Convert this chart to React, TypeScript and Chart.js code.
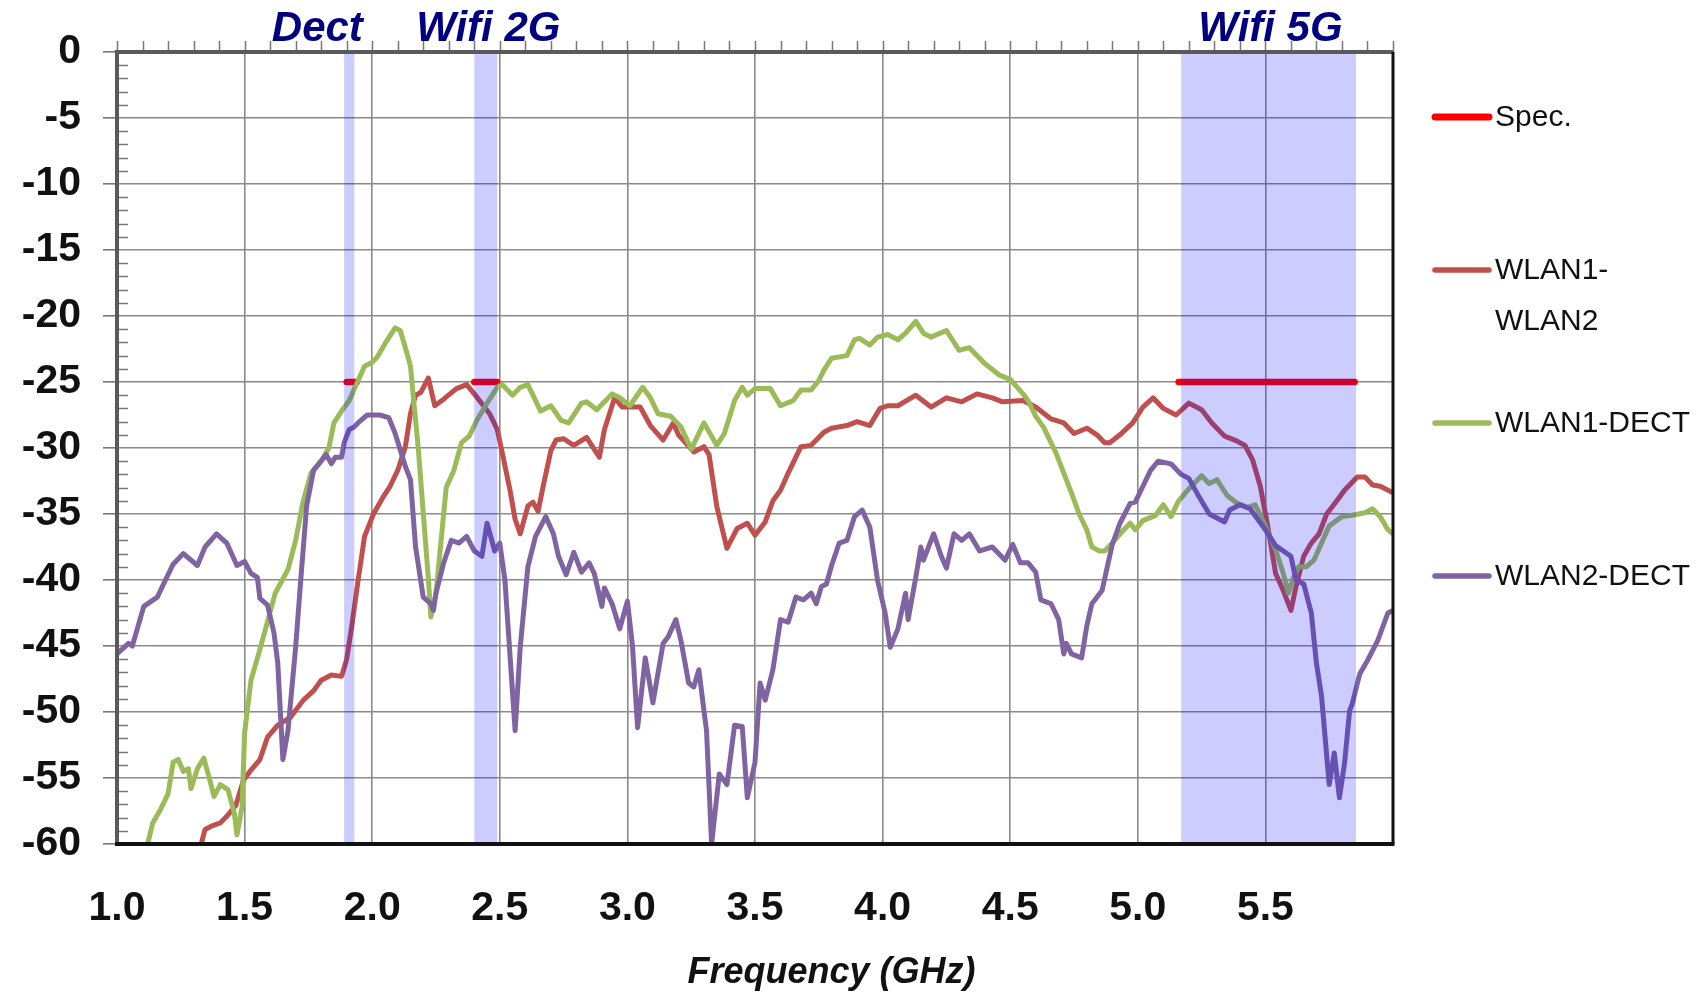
import React, { useEffect, useRef } from 'react';
import { Chart, registerables } from 'chart.js';

Chart.register(...registerables);

// ---------- data ----------
const seriesNames = ['Spec.', 'WLAN1-WLAN2', 'WLAN1-DECT', 'WLAN2-DECT'];
const seriesColors = ['#FF0000', '#C0504D', '#9BBB59', '#8064A2'];

const specStart = [1.9, 2.4, 5.16];
const specEnd = [1.94, 2.49, 5.85];
const specLevel = -25;

const bandStart = [1.89, 2.4, 5.17];
const bandEnd = [1.93, 2.49, 5.855];
const bandLabels = ['Dect', 'Wifi 2G', 'Wifi 5G'];
const bandLabelAt = [1.785, 2.455, 5.52];

const xTitle = 'Frequency (GHz)';
const xTitleAt = 3.8;

const wlan12Freq = [
  1.33, 1.345, 1.375, 1.405, 1.435, 1.465, 1.495, 1.525, 1.56, 1.59, 1.63, 1.68, 1.73, 1.77, 1.8, 1.84, 1.88, 1.9,
  1.92, 1.945, 1.97, 2.005, 2.04, 2.07, 2.1, 2.13, 2.15, 2.17, 2.19, 2.22, 2.245, 2.28, 2.33, 2.37, 2.4, 2.44, 2.46,
  2.49, 2.51, 2.54, 2.56, 2.58, 2.61, 2.63, 2.65, 2.67, 2.7, 2.72, 2.75, 2.79, 2.84, 2.89, 2.91, 2.95, 2.98, 3.01,
  3.05, 3.09, 3.14, 3.18, 3.2, 3.26, 3.3, 3.32, 3.35, 3.39, 3.43, 3.47, 3.5, 3.54, 3.57, 3.6, 3.63, 3.68, 3.72, 3.77,
  3.8, 3.86, 3.9, 3.95, 3.99, 4.02, 4.06, 4.13, 4.19, 4.25, 4.31, 4.37, 4.43, 4.47, 4.55, 4.6, 4.66, 4.71, 4.75, 4.8,
  4.84, 4.87, 4.89, 4.93, 4.98, 5.02, 5.06, 5.1, 5.15, 5.2, 5.25, 5.29, 5.34, 5.38, 5.42, 5.45, 5.48, 5.51, 5.54,
  5.57, 5.6, 5.62, 5.65, 5.68, 5.71, 5.74, 5.78, 5.81, 5.86, 5.89, 5.92, 5.95, 6.0,
];
const wlan12Db = [
  -60, -58.9, -58.6, -58.4, -57.8, -57.1, -55.2, -54.4, -53.6, -51.9, -51.0, -50.4, -49.1, -48.4, -47.6, -47.2, -47.3,
  -46.0, -43.5, -40.0, -36.7, -35.0, -33.8, -32.9, -31.7, -29.9, -27.4, -26.0, -25.8, -24.7, -26.8, -26.3, -25.5,
  -25.2, -25.9, -26.9, -27.4, -28.6, -30.4, -33.2, -35.4, -36.5, -34.4, -34.1, -34.8, -32.9, -30.2, -29.4, -29.3,
  -29.8, -29.2, -30.7, -28.6, -26.2, -26.9, -26.9, -26.9, -28.3, -29.4, -28.1, -29.0, -30.3, -29.9, -30.5, -34.4,
  -37.6, -36.1, -35.7, -36.6, -35.6, -34.0, -33.2, -31.9, -29.9, -29.8, -28.8, -28.5, -28.3, -28.0, -28.3, -27.0,
  -26.8, -26.8, -26.0, -26.9, -26.2, -26.5, -25.9, -26.2, -26.5, -26.4, -26.9, -27.8, -28.1, -28.9, -28.5, -29.0,
  -29.6, -29.6, -29.0, -28.1, -26.9, -26.2, -27.0, -27.5, -26.6, -27.1, -28.1, -29.1, -29.4, -29.8, -30.9, -32.9,
  -36.0, -39.5, -40.8, -42.3, -40.5, -38.2, -37.2, -36.5, -35.0, -34.0, -33.2, -32.2, -32.2, -32.8, -32.9, -33.4,
];

const wlan1DectFreq = [
  1.12, 1.14, 1.17, 1.2, 1.22, 1.24, 1.26, 1.28, 1.29, 1.315, 1.34, 1.36, 1.38, 1.405, 1.435, 1.46, 1.47, 1.49, 1.5,
  1.525, 1.555, 1.585, 1.62, 1.67, 1.7, 1.73, 1.76, 1.8, 1.83, 1.85, 1.88, 1.91, 1.94, 1.97, 2.0, 2.02, 2.05, 2.09,
  2.11, 2.13, 2.15, 2.16, 2.18, 2.2, 2.22, 2.23, 2.25, 2.27, 2.29, 2.32, 2.35, 2.38, 2.41, 2.45, 2.49, 2.51, 2.55,
  2.58, 2.61, 2.66, 2.7, 2.74, 2.77, 2.82, 2.84, 2.88, 2.94, 2.97, 3.01, 3.06, 3.09, 3.12, 3.17, 3.21, 3.25, 3.3,
  3.35, 3.38, 3.42, 3.45, 3.47, 3.5, 3.56, 3.6, 3.65, 3.68, 3.72, 3.75, 3.77, 3.8, 3.86, 3.89, 3.91, 3.95, 3.98, 4.02,
  4.06, 4.09, 4.13, 4.16, 4.19, 4.25, 4.3, 4.34, 4.4, 4.46, 4.5, 4.55, 4.57, 4.6, 4.63, 4.68, 4.71, 4.74, 4.77, 4.8,
  4.82, 4.85, 4.87, 4.9, 4.94, 4.97, 4.99, 5.02, 5.07, 5.1, 5.13, 5.16, 5.2, 5.25, 5.28, 5.31, 5.35, 5.39, 5.43,
  5.46, 5.5, 5.54, 5.57, 5.59, 5.61, 5.63, 5.66, 5.69, 5.72, 5.75, 5.8, 5.84, 5.89, 5.92, 5.95, 5.98, 6.0,
];
const wlan1DectDb = [
  -60, -58.4, -57.4, -56.2, -53.8, -53.6, -54.5, -54.3, -55.8, -54.3, -53.5, -54.9, -56.4, -55.5, -55.9, -57.7, -59.3,
  -57.2, -51.6, -47.6, -45.6, -43.5, -41.0, -39.2, -37.0, -34.0, -31.9, -31.0, -30.0, -28.1, -27.2, -26.4, -25.1,
  -23.8, -23.5, -23.1, -22.1, -20.9, -21.1, -22.4, -23.8, -25.9, -29.9, -34.9, -39.9, -42.8, -41.0, -37.0, -33.0,
  -31.7, -29.6, -29.1, -27.9, -26.6, -25.4, -25.2, -26.0, -25.4, -25.2, -27.2, -26.8, -27.9, -28.1, -26.6, -26.5,
  -27.1, -25.9, -26.2, -26.8, -25.4, -26.2, -27.4, -27.6, -28.4, -30.1, -28.1, -29.8, -28.9, -26.4, -25.4, -26.0,
  -25.5, -25.5, -26.8, -26.4, -25.6, -25.6, -24.9, -24.1, -23.2, -23.0, -21.8, -21.7, -22.2, -21.6, -21.4, -21.8,
  -21.3, -20.4, -21.3, -21.6, -21.1, -22.6, -22.4, -23.6, -24.5, -24.8, -25.9, -26.4, -27.6, -28.4, -30.4, -31.9,
  -33.4, -35.0, -36.2, -37.5, -37.8, -37.8, -37.2, -36.3, -35.7, -36.2, -35.5, -35.1, -34.3, -35.2, -34.0, -33.1,
  -32.1, -32.7, -32.4, -33.6, -34.2, -34.5, -34.3, -35.9, -37.7, -39.5, -41.0, -39.8, -39.0, -39.0, -38.5, -37.2,
  -35.9, -35.2, -35.1, -34.9, -34.6, -35.2, -36.2, -36.5,
];

const wlan2DectFreq = [
  1.0, 1.045, 1.06, 1.105, 1.158, 1.19, 1.22, 1.26, 1.315, 1.345, 1.39, 1.43, 1.47, 1.5, 1.525, 1.55, 1.56, 1.59,
  1.615, 1.63, 1.65, 1.67, 1.7, 1.72, 1.743, 1.77, 1.82, 1.84, 1.855, 1.88, 1.89, 1.91, 1.93, 1.95, 1.98, 2.03, 2.065,
  2.09, 2.13, 2.15, 2.17, 2.2, 2.23, 2.24, 2.25, 2.28, 2.31, 2.34, 2.37, 2.4, 2.43, 2.45, 2.48, 2.5, 2.52, 2.56, 2.58,
  2.61, 2.64, 2.68, 2.71, 2.73, 2.76, 2.79, 2.82, 2.85, 2.87, 2.9, 2.91, 2.94, 2.97, 3.0, 3.02, 3.04, 3.07, 3.1, 3.14,
  3.16, 3.19, 3.21, 3.24, 3.26, 3.28, 3.3, 3.31, 3.33, 3.36, 3.39, 3.42, 3.45, 3.47, 3.5, 3.52, 3.54, 3.57, 3.6, 3.63,
  3.66, 3.69, 3.72, 3.74, 3.76, 3.78, 3.8, 3.83, 3.86, 3.89, 3.92, 3.95, 3.98, 4.01, 4.03, 4.06, 4.09, 4.1, 4.13,
  4.15, 4.16, 4.2, 4.23, 4.25, 4.28, 4.31, 4.34, 4.38, 4.43, 4.48, 4.51, 4.54, 4.57, 4.6, 4.62, 4.66, 4.69, 4.71,
  4.72, 4.74, 4.78, 4.8, 4.82, 4.86, 4.9, 4.93, 4.97, 4.99, 5.02, 5.05, 5.08, 5.13, 5.17, 5.2, 5.24, 5.28, 5.34,
  5.36, 5.4, 5.44, 5.5, 5.54, 5.6, 5.62, 5.65, 5.68, 5.7, 5.72, 5.75, 5.77, 5.79, 5.81, 5.83, 5.84, 5.87, 5.9, 5.94,
  5.98, 6.0,
];
const wlan2DectDb = [
  -45.6, -44.8, -45.0, -42.0, -41.3, -40.0, -38.8, -38.0, -38.9, -37.5, -36.5, -37.2, -38.9, -38.6, -39.5, -39.8,
  -41.4, -41.9, -44.0, -46.3, -53.6, -51.4, -45.1, -40.0, -34.4, -31.7, -30.5, -31.2, -30.7, -30.7, -29.6, -28.6,
  -28.4, -28.0, -27.5, -27.5, -27.7, -28.9, -31.4, -32.4, -37.5, -41.3, -41.8, -42.3, -41.0, -38.7, -37.0, -37.2,
  -36.7, -37.8, -38.2, -35.7, -37.8, -37.2, -40.0, -51.4, -45.1, -39.0, -36.7, -35.2, -36.5, -38.2, -39.6, -37.9,
  -39.4, -38.7, -39.5, -42.0, -40.6, -41.8, -43.7, -41.6, -45.0, -51.2, -45.9, -49.3, -44.8, -44.3, -43.0, -44.6,
  -47.8, -48.1, -46.8, -49.9, -51.4, -60.0, -54.7, -55.5, -51.0, -51.1, -56.5, -53.8, -47.8, -49.1, -46.8, -43.0,
  -43.2, -41.3, -41.5, -41.0, -41.8, -40.5, -40.3, -38.9, -37.2, -37.0, -35.2, -34.7, -36.0, -40.0, -42.5, -45.1,
  -43.7, -41.0, -43.0, -39.8, -37.5, -38.5, -36.5, -38.2, -39.1, -36.5, -37.0, -36.5, -37.8, -37.5, -38.5, -37.3,
  -38.7, -38.7, -39.4, -41.5, -41.8, -43.0, -45.6, -44.8, -45.6, -45.9, -43.5, -41.8, -40.8, -37.3, -35.7, -34.2,
  -34.1, -32.9, -31.7, -31.0, -31.2, -32.0, -32.3, -33.7, -35.0, -35.6, -34.7, -34.3, -34.6, -36.2, -37.4, -38.2,
  -40.0, -40.3, -42.5, -46.3, -48.8, -55.5, -53.1, -56.5, -53.9, -49.9, -49.4, -47.1, -46.1, -44.6, -42.5, -42.3,
];

// ---------- helpers ----------
const FONT = "'Liberation Sans', Arial, Helvetica, sans-serif";
const toPoints = (xs: number[], ys: number[]) => xs.map((x, i) => ({ x, y: ys[i] }));
const specPoints = () => {
  const pts: { x: number; y: number | null }[] = [];
  specStart.forEach((s, i) => {
    pts.push({ x: s, y: specLevel }, { x: specEnd[i], y: specLevel }, { x: specEnd[i] + 0.01, y: null });
  });
  return pts;
};

const legendLines = [['Spec.'], ['WLAN1-', 'WLAN2'], ['WLAN1-DECT'], ['WLAN2-DECT']];

const decorPlugin = {
  id: 'decor',
  afterDatasetsDraw(chart: any) {
    const { ctx, chartArea, scales } = chart;
    const { left, right, top, bottom } = chartArea;
    const xs = scales.x;
    const ys = scales.y;
    ctx.save();
    // shaded bands (drawn over the curves)
    ctx.fillStyle = 'rgba(0,0,255,0.2)';
    bandStart.forEach((s, i) => {
      const x0 = xs.getPixelForValue(s);
      const x1 = xs.getPixelForValue(bandEnd[i]);
      ctx.fillRect(x0, top, x1 - x0, bottom - top);
    });
    // minor ticks on left (inside)
    ctx.strokeStyle = '#777';
    ctx.lineWidth = 1.5;
    ctx.beginPath();
    for (let v = -59; v < 0; v++) {
      if (v % 5 === 0) continue;
      const py = Math.round(ys.getPixelForValue(v)) + 0.5;
      ctx.moveTo(left, py);
      ctx.lineTo(left + 11, py);
    }
    // ticks on top (outside), every 0.1
    for (let k = 10; k <= 60; k++) {
      const px = Math.round(xs.getPixelForValue(k / 10)) + 0.5;
      ctx.moveTo(px, top);
      ctx.lineTo(px, top - 11);
    }
    ctx.stroke();
    // frame
    ctx.lineCap = 'butt';
    ctx.strokeStyle = '#5a5a5a';
    ctx.lineWidth = 4;
    ctx.beginPath();
    ctx.moveTo(left, bottom);
    ctx.lineTo(left, top);
    ctx.lineTo(right, top);
    ctx.stroke();
    ctx.strokeStyle = '#111';
    ctx.lineWidth = 3;
    ctx.beginPath();
    ctx.moveTo(right, top);
    ctx.lineTo(right, bottom);
    ctx.stroke();
    ctx.lineWidth = 4;
    ctx.beginPath();
    ctx.moveTo(left - 2, bottom);
    ctx.lineTo(right + 1.5, bottom);
    ctx.stroke();
    ctx.restore();
  },
  afterDraw(chart: any) {
    const { ctx, chartArea, scales } = chart;
    const xs = scales.x;
    ctx.save();
    // band labels
    ctx.fillStyle = '#000080';
    ctx.font = `italic bold 42px ${FONT}`;
    ctx.textAlign = 'center';
    ctx.textBaseline = 'alphabetic';
    bandLabels.forEach((t, i) => {
      ctx.fillText(t, xs.getPixelForValue(bandLabelAt[i]), 41);
    });
    // x-axis title
    ctx.fillStyle = '#111';
    ctx.font = `italic bold 36px ${FONT}`;
    ctx.fillText(xTitle, xs.getPixelForValue(xTitleAt), 983);
    // legend
    const lx0 = chartArea.right + 42;
    const lx1 = chartArea.right + 96;
    ctx.font = `30px ${FONT}`;
    ctx.textAlign = 'left';
    ctx.textBaseline = 'middle';
    legendLines.forEach((lines, i) => {
      const ly = chartArea.top + 65 + i * 153;
      ctx.strokeStyle = seriesColors[i];
      ctx.lineWidth = i === 0 ? 7 : 5.5;
      ctx.lineCap = 'round';
      ctx.beginPath();
      ctx.moveTo(lx0, ly);
      ctx.lineTo(lx1, ly);
      ctx.stroke();
      ctx.fillStyle = '#111';
      lines.forEach((t, j) => ctx.fillText(t, lx1 + 6, ly + 1 + j * 51));
    });
    ctx.restore();
  },
};

export default function App() {
  const canvasRef = useRef<HTMLCanvasElement | null>(null);

  useEffect(() => {
    if (!canvasRef.current) return;
    const gridColor = '#8a8a8a';
    const lineStyle = { borderWidth: 5, pointRadius: 0, tension: 0, borderJoinStyle: 'round', borderCapStyle: 'round' };
    const chart = new Chart(canvasRef.current, {
      type: 'line',
      data: {
        datasets: [
          { label: seriesNames[3], data: toPoints(wlan2DectFreq, wlan2DectDb), borderColor: seriesColors[3], ...lineStyle },
          { label: seriesNames[2], data: toPoints(wlan1DectFreq, wlan1DectDb), borderColor: seriesColors[2], ...lineStyle },
          { label: seriesNames[1], data: toPoints(wlan12Freq, wlan12Db), borderColor: seriesColors[1], ...lineStyle },
          {
            label: seriesNames[0],
            data: specPoints(),
            borderColor: seriesColors[0],
            borderWidth: 6.5,
            pointRadius: 0,
            tension: 0,
            borderCapStyle: 'round',
            spanGaps: false,
          },
        ] as any,
      },
      options: {
        responsive: false,
        animation: false,
        layout: { padding: { left: 0, right: 310, top: 52, bottom: 0 } },
        plugins: { legend: { display: false }, tooltip: { enabled: false } },
        scales: {
          x: {
            type: 'linear',
            min: 1,
            max: 6,
            ticks: {
              stepSize: 0.5,
              autoSkip: false,
              maxRotation: 0,
              padding: 40,
              color: '#111',
              font: { size: 41, family: FONT, weight: 'bold' },
              callback: (v: any) => (Number(v) >= 6 ? '' : Number(v).toFixed(1)),
            },
            grid: { color: gridColor, lineWidth: 1.6, drawTicks: false },
            border: { display: false },
            afterFit: (s: any) => {
              s.height = 153;
            },
          },
          y: {
            min: -60,
            max: 0,
            ticks: {
              stepSize: 5,
              padding: 22,
              color: '#111',
              font: { size: 41, family: FONT, weight: 'bold' },
            },
            grid: { color: gridColor, lineWidth: 1.6, tickLength: 14, tickColor: '#777' },
            border: { display: false },
            afterFit: (s: any) => {
              s.width = 117;
            },
          },
        },
      } as any,
      plugins: [decorPlugin],
    });
    return () => chart.destroy();
  }, []);

  return (
    <div style={{ position: 'fixed', left: 0, top: 0, width: 1703, height: 997, background: '#fff' }}>
      <canvas ref={canvasRef} width={1703} height={997} style={{ display: 'block' }} />
    </div>
  );
}
